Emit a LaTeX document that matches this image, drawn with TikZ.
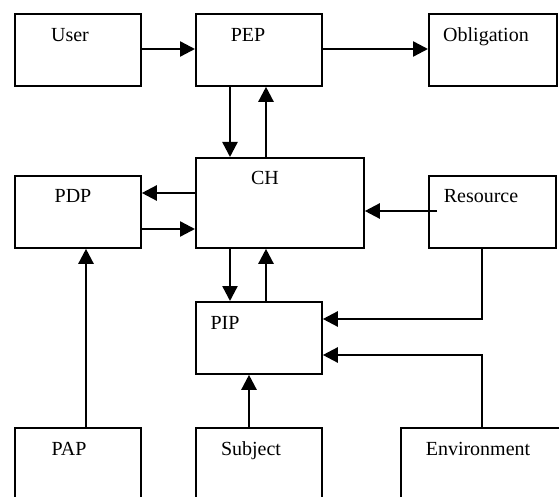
\documentclass[tikz,border=0pt]{standalone}
\usepackage{fontspec}
\setmainfont{Liberation Serif}
\usetikzlibrary{arrows.meta}
\begin{document}
\begin{tikzpicture}[x=1pt,y=-1pt,
  box/.style={draw, line width=1.8pt, inner sep=0pt, anchor=north west},
  lbl/.style={inner sep=0pt, anchor=base, font=\fontsize{20}{24}\selectfont},
  arr/.style={line width=2.4pt, -{Triangle[length=15pt,width=15pt]}},
  ln/.style={line width=2.4pt}]
\fill[white] (0,0) rectangle (559,497);
\useasboundingbox (0,0) rectangle (559,497);
\clip (0,0) rectangle (559,497);
% boxes
\node[box, minimum width=126pt, minimum height=72pt] (User) at (14,13) {};
\node[box, minimum width=126pt, minimum height=72pt] (PEP) at (195,13) {};
\node[box, minimum width=128pt, minimum height=72pt] (Obl) at (428,13) {};
\node[box, minimum width=126pt, minimum height=72pt] (PDP) at (14,175) {};
\node[box, minimum width=168pt, minimum height=90pt] (CH) at (195,157) {};
\node[box, minimum width=127pt, minimum height=72pt] (Res) at (428,175) {};
\node[box, minimum width=126pt, minimum height=72pt] (PIP) at (195,301) {};
\node[box, minimum width=126pt, minimum height=100pt] (PAP) at (14,427) {};
\node[box, minimum width=126pt, minimum height=100pt] (Subj) at (195,427) {};
\node[box, minimum width=200pt, minimum height=100pt] (Env) at (400,427) {};
% labels
\node[lbl] (tUser) at (70,42) {User};
\node[lbl] (tPEP) at (248,42) {PEP};
\node[lbl] (tObl) at (486,42) {Obligation};
\node[lbl] (tCH) at (265,185) {CH};
\node[lbl] (tPDP) at (73,203) {PDP};
\node[lbl] (tRes) at (481,203) {Resource};
\node[lbl] (tPIP) at (225,329) {PIP};
\node[lbl] (tPAP) at (69,455) {PAP};
\node[lbl] (tSubj) at (251,455) {Subject};
\node[lbl] (tEnv) at (478,455) {Environment};
% connectors
\draw[arr] (User.east |- 0,49) -- (PEP.west |- 0,49);
\draw[arr] (PEP.east |- 0,49) -- (Obl.west |- 0,49);
\draw[arr] (PEP.south -| 230,0) -- (CH.north -| 230,0);
\draw[arr] (CH.north -| 266,0) -- (PEP.south -| 266,0);
\draw[arr] (CH.west |- 0,193) -- (PDP.east |- 0,193);
\draw[arr] (PDP.east |- 0,229) -- (CH.west |- 0,229);
\coordinate (rs) at (437,211);
\draw[arr] (rs) -- (rs -| CH.east);
\draw[arr] (CH.south -| 230,0) -- (PIP.north -| 230,0);
\draw[arr] (PIP.north -| 266,0) -- (CH.south -| 266,0);
\draw[arr] (Res.south -| 482,0) |- (PIP.east |- 0,319);
\draw[arr] (Env.north -| 482,0) |- (PIP.east |- 0,355);
\draw[arr] (Subj.north -| 249,0) -- (PIP.south -| 249,0);
\draw[arr] (PAP.north -| 86,0) -- (PDP.south -| 86,0);
\end{tikzpicture}
\end{document}
